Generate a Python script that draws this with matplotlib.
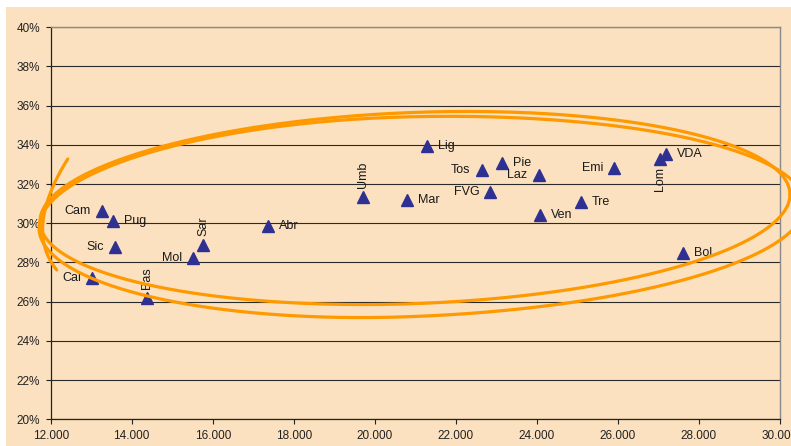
import numpy as np
import matplotlib
matplotlib.use("Agg")
import matplotlib.pyplot as plt
from matplotlib.patches import Rectangle
from matplotlib.ticker import FuncFormatter, MultipleLocator

plt.rcParams['font.family'] = ['Liberation Sans', 'DejaVu Sans']

# Regional data: per-capita income (x) vs. share (%)
regions = ["Cal", "Cam", "Pug", "Sic", "Bas", "Mol", "Sar", "Abr", "Umb", "Mar",
           "Lig", "Tos", "Pie", "Laz", "FVG", "Ven", "Emi", "Lom", "VDA", "Tre", "Bol"]
income = [13019, 13266, 13541, 13580, 14377, 15517, 15759, 17356, 19708, 20794,
          21287, 22637, 23146, 24044, 22849, 24069, 25910, 27030, 27186, 25088, 27605]
share = [27.22, 30.63, 30.10, 28.78, 26.17, 28.23, 28.91, 29.86, 31.33, 31.19,
         33.96, 32.73, 33.09, 32.46, 31.58, 30.44, 32.82, 33.30, 33.52, 31.10, 28.47]
# label placement: l = left, r = right, u = rotated above, d = rotated below
placement = ["l", "l", "r", "l", "u", "l", "u", "r", "u", "r",
             "r", "l", "r", "l", "l", "r", "l", "d", "r", "r", "r"]

x_ticks = np.arange(12000, 30001, 2000)
peach = "#FBE1BF"
orange = "#FF9900"
navy = "#2E3192"

fig = plt.figure(figsize=(7.91, 4.46), dpi=100, facecolor="white")
fig.patches.append(Rectangle((6 / 791, 0), 1, 1 - 7 / 446, transform=fig.transFigure,
                             facecolor=peach, edgecolor="none", zorder=-10))
ax = fig.add_axes([50.7 / 791, 26.7 / 446, (780 - 50.7) / 791, (419.3 - 27.3) / 446])
ax.set_facecolor(peach)

ax.set_xlim(12000, 30000)
ax.set_ylim(20, 40)
ax.set_xticks(x_ticks)
ax.xaxis.set_major_formatter(FuncFormatter(lambda v, p: f"{int(v) // 1000}.{int(v) % 1000:03d}"))
ax.yaxis.set_major_locator(MultipleLocator(2))
ax.yaxis.set_major_formatter(FuncFormatter(lambda v, p: f"{v:.0f}%"))
ax.tick_params(direction="out", length=3.5, width=0.8, colors="#222222",
               labelsize=8.5, pad=4)
ax.grid(axis="y", color="#2a2a2a", linewidth=0.8)
ax.set_axisbelow(True)
for s in ("left", "bottom"):
    ax.spines[s].set_color("#222222")
    ax.spines[s].set_linewidth(0.9)
for s in ("top", "right"):
    ax.spines[s].set_color("#8a8a8a")
    ax.spines[s].set_linewidth(1.0)

ax.plot(income, share, linestyle="none", marker="^", markersize=8,
        color=navy, markeredgecolor=navy, zorder=3)

for name, xv, yv, pos in zip(regions, income, share, placement):
    kw = dict(textcoords="offset points", fontsize=9, color="#1a1a1a", zorder=4)
    if pos == "l":
        ax.annotate(name, (xv, yv), xytext=(-8, 0), ha="right", va="center", **kw)
    elif pos == "r":
        ax.annotate(name, (xv, yv), xytext=(8, 0), ha="left", va="center", **kw)
    elif pos == "u":
        ax.annotate(name, (xv, yv), xytext=(0, 6.5), ha="center", va="bottom",
                    rotation=90, **kw)
    else:
        ax.annotate(name, (xv, yv), xytext=(0, -6), ha="center", va="top",
                    rotation=90, **kw)

# Hand-drawn loops around the cloud of regions
t = np.linspace(0, 2 * np.pi, 600)

# loop 1: tilted ellipse
cx1, a1, cy1, b1, k1 = 20991, 9255, 30.78, 4.878, 7.44e-5
lx1 = cx1 + a1 * np.cos(t)
ly1 = cy1 + b1 * np.sin(t) + k1 * (lx1 - cx1)
ax.plot(lx1, ly1, color=orange, linewidth=2.3, clip_on=False, zorder=6,
        solid_capstyle="round")

# loop 2: slightly lower, stretched further to the right
cx2, aL2, aR2, cy2, b2, k2 = 20621, 8909, 9995, 30.32, 5.10, 6.2e-5
c = np.cos(t)
lx2 = cx2 + np.where(c >= 0, aR2, aL2) * c
ly2 = cy2 + b2 * np.sin(t) + k2 * (lx2 - cx2)
ax.plot(lx2, ly2, color=orange, linewidth=2.3, clip_on=False, zorder=6,
        solid_capstyle="round")

# short closing stroke on the left
s = np.linspace(0, 1, 60)[:, None]
p0, p1, p2 = np.array([12420, 33.28]), np.array([11336, 29.68]), np.array([12148, 27.62])
stroke = (1 - s) ** 2 * p0 + 2 * (1 - s) * s * p1 + s ** 2 * p2
ax.plot(stroke[:, 0], stroke[:, 1], color=orange, linewidth=2.3, clip_on=False,
        zorder=6, solid_capstyle="round")

fig.savefig("out.png", dpi=100, facecolor=fig.get_facecolor())
